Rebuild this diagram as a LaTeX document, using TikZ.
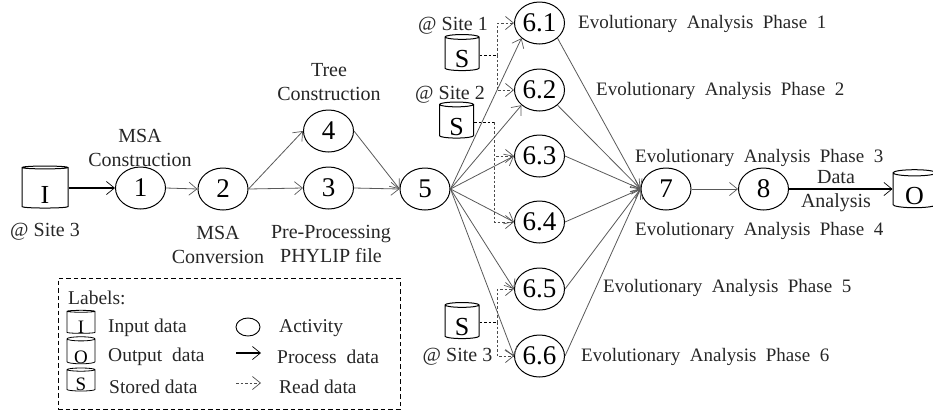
\documentclass[tikz,border=0pt]{standalone}
\usepackage{fontspec}
\setmainfont{Liberation Serif}
\usetikzlibrary{shapes.geometric,arrows.meta}
\newcommand{\lowered}[2]{\raisebox{-#1pt}[0pt][0pt]{#2}}
\tikzset{
  activity/.style={ellipse,draw=black,line width=1pt,minimum width=50pt,minimum height=42pt,inner sep=0pt,font=\fontsize{27}{27}\selectfont},
  store/.style={cylinder,shape border rotate=90,draw=black,line width=1pt,aspect=0.33,inner sep=0pt,font=\fontsize{26}{26}\selectfont},
  lstore/.style={store,line width=0.8pt,minimum width=28pt,aspect=0.3,font=\fontsize{19}{19}\selectfont},
  lbl/.style={inner sep=0pt,font=\fontsize{20}{24}\selectfont,text=black!85},
  phase/.style={inner sep=0pt,anchor=west,font=\fontsize{19}{24}\selectfont,text=black!85},
  lblw/.style={inner sep=0pt,anchor=west,font=\fontsize{19.5}{24}\selectfont,text=black!85},
  barb/.style={-{Straight Barb[length=8pt,width=13pt,line width=0.7pt]}},
  flow/.style={barb,draw=black!65,line width=0.8pt},
  strong/.style={barb,draw=black,line width=1.4pt},
  readline/.style={draw=black!70,line width=0.7pt,dash pattern=on 2.5pt off 2pt},
  readarrow/.style={readline,barb},
  legendbox/.style={draw=black,line width=1pt,dash pattern=on 4.5pt off 3pt}
}
\begin{document}
\begin{tikzpicture}[x=1pt,y=-1pt]
\useasboundingbox (0,0) rectangle (933,416);
% activities
\node[activity] (n1) at (140.5,188) {1};
\node[activity] (n2) at (223,189) {2};
\node[activity] (n4) at (328.5,131) {4};
\node[activity] (n3) at (328.5,188) {3};
\node[activity] (n5) at (425,189) {5};
\node[activity] (n61) at (539.5,23) {6.1};
\node[activity] (n62) at (539.5,90) {6.2};
\node[activity] (n63) at (539.5,156) {6.3};
\node[activity] (n64) at (539.5,222) {6.4};
\node[activity] (n65) at (539.5,289) {6.5};
\node[activity] (n66) at (539.5,356) {6.6};
\node[activity] (n7) at (666,189) {7};
\node[activity] (n8) at (763.5,189) {8};
% stores
\node[store,minimum width=46pt,minimum height=42pt] (sI) at (45,188) {\lowered{15}{I}};
\node[store,minimum width=43pt,minimum height=38pt] (sO) at (914.5,190.5) {\lowered{14}{O}};
\node[store,minimum width=34pt,minimum height=36pt] (s1) at (462,54) {\lowered{13.5}{S}};
\node[store,minimum width=34pt,minimum height=36pt] (s2) at (456.5,121.5) {\lowered{13.5}{S}};
\node[store,minimum width=34pt,minimum height=36pt] (s3) at (462,322) {\lowered{13.5}{S}};
% process connectors
\draw[strong] (sI.east |- n1) -- (n1.west);
\draw[flow] (n1.east) -- (n2.west);
\draw[flow] (n2.east) -- (n4.west);
\draw[flow] (n2.east) -- (n3.west);
\draw[flow] (n4.east) -- (n5.west);
\draw[flow] (n3.east) -- (n5.west);
\draw[flow] (n5.east) -- (n61.south west);
\draw[flow] (n5.east) -- (n62.south west);
\draw[flow] (n5.east) -- (n63.west);
\draw[flow] (n5.east) -- (n64.west);
\draw[flow] (n5.east) -- (n65.west);
\draw[flow] (n5.east) -- (n66.west);
\draw[flow] (n61.south east) -- (n7.west);
\draw[flow] (n62.south east) -- (n7.west);
\draw[flow] (n63.east) -- (n7.west);
\draw[flow] (n64.east) -- (n7.west);
\draw[flow] (n65.east) -- (n7.west);
\draw[flow] (n66.east) -- (n7.west);
\draw[flow] (n7.east) -- (n8.west);
\draw[strong] (n8.east) -- (sO.west |- n8);
% read connectors
\coordinate (j1) at (497,55);
\coordinate (j2) at (494,122);
\coordinate (j3) at (497,322);
\draw[readline,draw=black] (s1.east |- j1) -- (j1);
\draw[readarrow] (j1) |- (n61.west);
\draw[readarrow] (j1) |- (n62.west);
\draw[readline,draw=black] (s2.east |- j2) -- (j2);
\draw[readarrow] (j2) |- (n63.west);
\draw[readarrow] (j2) |- (n64.west);
\draw[readline,draw=black] (s3.east |- j3) -- (j3);
\draw[readarrow] (j3) |- (n65.west);
\draw[readarrow] (j3) |- (n66.west);
% labels
\node[lbl] (tMSA) at (140,147.5) [align=center] {MSA\\Construction};
\node[lbl] (tConv) at (218,244.5) [align=center] {MSA\\Conversion};
\node[lbl] (tTree) at (329,82.5) [align=center] {Tree\\Construction};
\node[lbl] (tPre) at (331,243.5) [align=center] {Pre-Processing\\PHYLIP file};
\node[lbl] (tData) at (836,191) [align=center] {Data\\Analysis};
\node[lbl] (tS3a) at (45,232) {@ Site 3};
\node[lbl] (tS1) at (453,26) {@ Site 1};
\node[lbl] (tS2) at (450,95) {@ Site 2};
\node[lbl] (tS3b) at (457.5,357) {@ Site 3};
\node[phase] (p1) at (578,24) {Evolutionary\ \ Analysis\ \ Phase\ \ 1};
\node[phase] (p2) at (596,91) {Evolutionary\ \ Analysis\ \ Phase\ \ 2};
\node[phase] (p3) at (635,158) {Evolutionary\ \ Analysis\ \ Phase\ \ 3};
\node[phase] (p4) at (635,231) {Evolutionary\ \ Analysis\ \ Phase\ \ 4};
\node[phase] (p5) at (603,288) {Evolutionary\ \ Analysis\ \ Phase\ \ 5};
\node[phase] (p6) at (581,357) {Evolutionary\ \ Analysis\ \ Phase\ \ 6};
% legend
\node[legendbox,minimum width=342pt,minimum height=131pt,inner sep=0pt] (legend) at (229,343.5) {};
\node[lblw] (lLabels) at (68,298) {Labels:};
\node[lstore,minimum height=23pt] (lI) at (81,322.5) {\lowered{10.5}{I}};
\node[lstore,minimum height=27pt] (lO) at (81,351.5) {\lowered{12}{O}};
\node[lstore,minimum height=23pt] (lS) at (81,380.5) {\lowered{10}{S}};
\node[lblw] (tI) at (108,328) {Input data};
\node[lblw] (tO) at (108,357) {Output\ \ data};
\node[lblw] (tSt) at (109,387) {Stored data};
\node[ellipse,draw=black,line width=0.9pt,minimum width=24pt,minimum height=18pt,inner sep=0pt] (lA) at (248,327) {};
\coordinate (a1) at (236,353);
\coordinate (a2) at (261,353);
\coordinate (b1) at (236,383);
\coordinate (b2) at (261,383);
\draw[strong,line width=1.1pt] (a1) -- (a2);
\draw[readarrow] (b1) -- (b2);
\node[lblw] (tAct) at (279,328) {Activity};
\node[lblw] (tProc) at (277,357) {Process\ \ data};
\node[lblw] (tRead) at (279,387) {Read data};
\end{tikzpicture}
\end{document}
